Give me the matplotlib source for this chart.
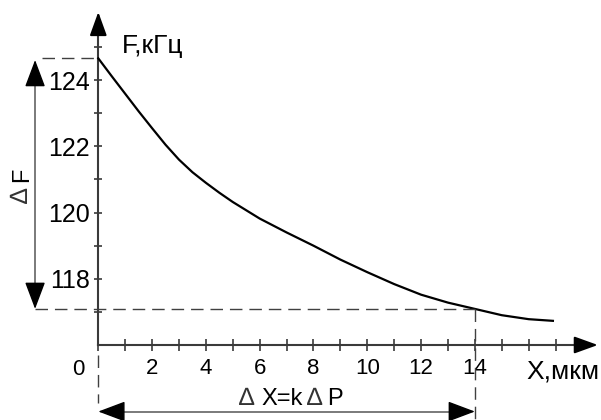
import matplotlib
matplotlib.use("Agg")
import matplotlib.pyplot as plt
from matplotlib.ticker import FixedLocator, FixedFormatter

plt.rcParams['font.family'] = ['Liberation Sans', 'DejaVu Sans']

# data
x_um = [0, 0.5, 1, 1.5, 2, 2.5, 3, 3.5, 4, 4.5, 5, 6, 7, 8, 9, 10, 11, 12,
        13, 14, 15, 16, 16.9]
f_khz = [124.66, 124.12, 123.59, 123.06, 122.55, 122.05, 121.60, 121.22,
         120.90, 120.60, 120.32, 119.82, 119.40, 119.00, 118.58, 118.20,
         117.84, 117.52, 117.28, 117.09, 116.90, 116.78, 116.73]
y_major = [118, 120, 122, 124]
y_minor = [117, 119, 121, 123, 125]
x_ticks = list(range(0, 18))
x_labels = ['', '', '2', '', '4', '', '6', '', '8', '', '10', '', '12', '', '14', '', '', '']
x_mark = 14          # working point
f_mark = 117.09
f_top = 124.66

AX = '#3a3a3a'
GR = '#707070'

fig = plt.figure(figsize=(6.01, 4.2), dpi=100)
ax = fig.add_axes([0, 0, 1, 1])
ax.set_xlim(-3.654, 18.688)
ax.set_ylim(113.734, 126.423)
ax.patch.set_visible(False)

for s in ['top', 'right']:
    ax.spines[s].set_visible(False)
ax.spines['left'].set_position(('data', 0))
ax.spines['bottom'].set_position(('data', 116))
ax.spines['left'].set_bounds(116, 125.6)
ax.spines['bottom'].set_bounds(0, 18.0)
for s in ['left', 'bottom']:
    ax.spines[s].set_color(AX)
    ax.spines[s].set_linewidth(1.5)

ax.yaxis.set_major_locator(FixedLocator(y_major))
ax.yaxis.set_minor_locator(FixedLocator(y_minor))
ax.xaxis.set_major_locator(FixedLocator(x_ticks))
ax.xaxis.set_major_formatter(FixedFormatter(x_labels))
ax.tick_params(axis='y', which='both', direction='inout', length=6, width=1.2,
               color=AX, labelsize=18, pad=3)
ax.tick_params(axis='y', which='minor', labelleft=False)
ax.tick_params(axis='x', which='both', direction='inout', length=9, width=1.2,
               color=AX, labelsize=16, pad=5)

# axis arrows
arrow_kw = dict(arrowstyle='-|>,head_length=0.72,head_width=0.26', color='black',
                lw=1.5, shrinkA=0, shrinkB=0, mutation_scale=20)
ax.annotate('', xy=(0, 126.06), xytext=(0, 125.4), arrowprops=arrow_kw,
            annotation_clip=False)
ax.annotate('', xy=(18.57, 116), xytext=(17.9, 116), arrowprops=arrow_kw,
            annotation_clip=False)

# curve
ax.plot(x_um, f_khz, color='black', lw=1.6, clip_on=False, zorder=3,
        solid_joinstyle='round')

# dashed guide lines
dash = dict(color='#404040', lw=1.0, dashes=(9, 5), clip_on=False, zorder=4)
ax.plot([-2.1, 0], [f_top, f_top], **dash)
ax.plot([-2.35, x_mark], [f_mark, f_mark], **dash)
ax.plot([x_mark, x_mark], [f_mark, 113.75], **dash)
ax.plot([0, 0], [115.7, 114.25], **dash)

# ΔF double arrow (grey shaft, black heads)
head = dict(arrowstyle='-|>,head_length=0.85,head_width=0.32', color='black',
            lw=1.0, shrinkA=0, shrinkB=0, mutation_scale=20)
ax.plot([-2.35, -2.35], [f_mark + 0.3, f_top - 0.4], color=GR, lw=1.3,
        clip_on=False)
ax.annotate('', xy=(-2.35, f_top - 0.05), xytext=(-2.35, f_top - 0.7),
            arrowprops=head, annotation_clip=False)
ax.annotate('', xy=(-2.35, f_mark), xytext=(-2.35, f_mark + 0.65),
            arrowprops=head, annotation_clip=False)
# ΔX double arrow
y_dx = 113.99
ax.plot([0.5, x_mark - 0.5], [y_dx, y_dx], color=GR, lw=1.3, clip_on=False)
ax.annotate('', xy=(0, y_dx), xytext=(0.8, y_dx), arrowprops=head,
            annotation_clip=False)
ax.annotate('', xy=(x_mark, y_dx), xytext=(x_mark - 0.8, y_dx), arrowprops=head,
            annotation_clip=False)

# labels
ax.text(0.88, 124.82, 'F,кГц', fontsize=19, ha='left', va='baseline')
ax.text(18.62, 115.0, 'X,мкм', fontsize=19, ha='right', va='baseline')
ax.text(-0.755, 115.09, '0', fontsize=16, ha='center', va='baseline')
# ΔF (rotated): delta then F, sharing a baseline
xb = -2.62
ax.text(xb, 120.3, '∆', fontsize=18, rotation=90, rotation_mode='anchor',
        ha='left', va='baseline', color='#333333')
ax.text(xb, 120.92, 'F', fontsize=17, rotation=90, rotation_mode='anchor',
        ha='left', va='baseline')
# ΔX = kΔP
yb = 114.2
ax.text(5.5, yb, '∆', fontsize=18, ha='center', va='baseline', color='#333333')
ax.text(6.05, yb, 'X=k', fontsize=17, ha='left', va='baseline')
ax.text(8.05, yb, '∆', fontsize=18, ha='center', va='baseline', color='#333333')
ax.text(8.5, yb, 'P', fontsize=17, ha='left', va='baseline')

fig.savefig('out.png', dpi=100, facecolor='white')
